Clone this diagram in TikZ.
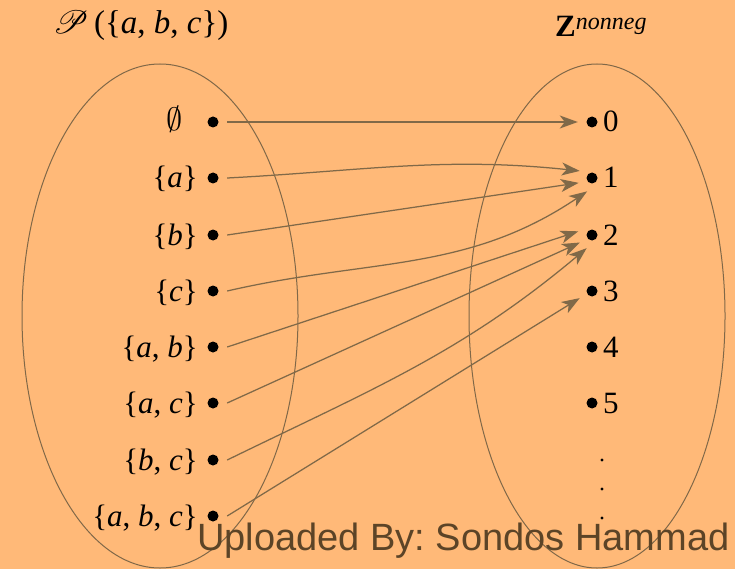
\documentclass[tikz,border=0pt]{standalone}
\usepackage{fontspec}
\usepackage{mathrsfs}
\setmainfont{Liberation Serif}
\newfontfamily\wmfont{Liberation Sans}
\usetikzlibrary{arrows.meta}
\definecolor{bg}{RGB}{255,185,120}
\definecolor{arrc}{RGB}{128,105,72}
\definecolor{ellc}{RGB}{128,104,72}
\definecolor{wmc}{RGB}{92,68,39}
\tikzset{
  dotnode/.style={circle, minimum size=28pt, inner sep=0pt},
  vdot/.style={circle, fill=black, minimum size=3.4pt, inner sep=0pt},
  lab/.style={inner sep=0pt, font=\fontsize{31}{33}\selectfont},
  arr/.style={draw=arrc, line width=1.25pt, -{Stealth[length=18pt,width=13pt,inset=5pt]}},
  ell/.style={draw=ellc, line width=1pt},
}
\begin{document}
\frenchspacing
\begin{tikzpicture}[x=1pt,y=-1pt]
\fill[bg] (0,0) rectangle (735,569);
\useasboundingbox (0,0) rectangle (735,569);
% ellipses
\draw[ell] (160,316) ellipse [x radius=138, y radius=252];
\draw[ell] (597,316) ellipse [x radius=128, y radius=252];
% titles
\node[inner sep=0pt, anchor=base west, font=\fontsize{33}{35}\selectfont] (tP) at (53,34) {\scalebox{1.3}{$\mathscr{P}$}\,(\{\textit{a}, \textit{b}, \textit{c}\})};
\node[inner sep=0pt, anchor=base west] (tZ) at (555,37) {\fontsize{31}{31}\selectfont\textbf{Z}\raisebox{7pt}{\fontsize{24}{24}\selectfont\textit{nonneg}}};
% left dots
\node[dotnode] (l0) at (213,122) {};
\node[dotnode] (l1) at (213,178) {};
\node[dotnode] (l2) at (213,235) {};
\node[dotnode] (l3) at (213,291) {};
\node[dotnode] (l4) at (213,347) {};
\node[dotnode] (l5) at (213,403) {};
\node[dotnode] (l6) at (213,460) {};
\node[dotnode] (l7) at (213,516) {};
% left labels
\node[lab, anchor=base] (t0) at (175,131) {\scalebox{1.3}{$\emptyset$}};
\node[lab, anchor=base east] (t1) at (198,188) {\{\textit{a}\}};
\node[lab, anchor=base east] (t2) at (198,245) {\{\textit{b}\}};
\node[lab, anchor=base east] (t3) at (198,301) {\{\textit{c}\}};
\node[lab, anchor=base east] (t4) at (198,357) {\{\textit{a}, \textit{b}\}};
\node[lab, anchor=base east] (t5) at (198,413) {\{\textit{a}, \textit{c}\}};
\node[lab, anchor=base east] (t6) at (198,470) {\{\textit{b}, \textit{c}\}};
\node[lab, anchor=base east] (t7) at (198,526) {\{\textit{a}, \textit{b}, \textit{c}\}};
% right dots
\node[dotnode] (r0) at (592,122) {};
\node[dotnode] (r1) at (592,178) {};
\node[dotnode] (r2) at (592,235) {};
\node[dotnode] (r3) at (592,291) {};
\node[dotnode] (r4) at (592,347) {};
\node[dotnode] (r5) at (592,403) {};
\foreach \n in {l0,l1,l2,l3,l4,l5,l6,l7,r0,r1,r2,r3,r4,r5} \fill[black] (\n.center) circle (5.5pt);
\node[lab, anchor=base west] (n0) at (603,132) {0};
\node[lab, anchor=base west] (n1) at (603,188) {1};
\node[lab, anchor=base west] (n2) at (603,245) {2};
\node[lab, anchor=base west] (n3) at (603,301) {3};
\node[lab, anchor=base west] (n4) at (603,357) {4};
\node[lab, anchor=base west] (n5) at (603,413) {5};
\node[vdot] (vd1) at (602,460) {};
\node[vdot] (vd2) at (602,489) {};
\node[vdot] (vd3) at (602,518) {};
% arrows
\draw[arr] (l0.east) -- (r0.180);
\draw[arr] (l1.east) to[out=3, in=174] (r1.150);
\draw[arr] (l2.east) -- (r1.200);
\draw[arr] (l3.east) to[out=13, in=214] (r1.250);
\draw[arr] (l4.east) -- (r2.165);
\draw[arr] (l5.east) -- (r2.212);
\draw[arr] (l6.east) to[out=26, in=220] (r2.248);
\draw[arr] (l7.east) -- (r3.210);
% watermark
\node[inner sep=0pt, anchor=base west, text=wmc, font=\wmfont\fontsize{38}{40}\selectfont] (wm) at (197,550) {Uploaded By: Sondos Hammad};
\end{tikzpicture}
\end{document}
